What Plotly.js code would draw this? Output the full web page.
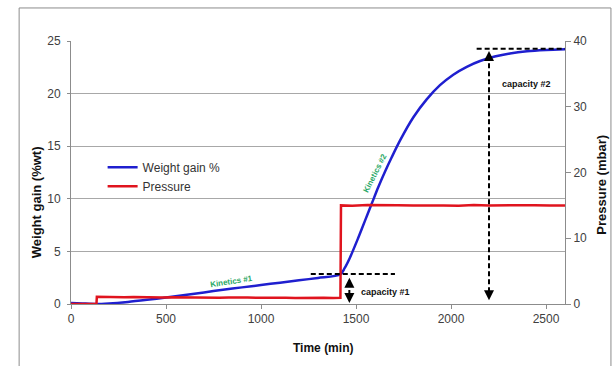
<!DOCTYPE html>
<html>
<head>
<meta charset="utf-8">
<script src="https://cdn.plot.ly/plotly-3.0.1.min.js"></script>
<style>html,body{margin:0;padding:0;background:#fff;}#chart{width:615px;height:366px;}</style>
</head>
<body>
<div id="chart"></div>
<script>
// Weight gain (% wt) vs time (min)
var weightTime  = [0, 60, 130, 200, 300, 400, 500, 600, 700, 800, 900, 1000, 1100, 1200, 1300, 1417, 1440, 1468, 1512, 1547, 1583, 1617, 1653, 1688, 1732, 1802, 1872, 1942, 2012, 2083, 2153, 2230, 2310, 2400, 2500, 2600];
var weightValue = [0.1, 0.05, 0, 0.05, 0.2, 0.4, 0.62, 0.85, 1.1, 1.35, 1.58, 1.8, 2.03, 2.25, 2.48, 2.8, 3.4, 4.4, 6.3, 7.9, 9.55, 11.1, 12.6, 13.95, 15.55, 17.75, 19.45, 20.8, 21.8, 22.55, 23.1, 23.52, 23.82, 24.03, 24.15, 24.22];

// Pressure (mbar) vs time (min)
var pressureTime  = [0, 134, 136, 180, 230, 280, 330, 380, 430, 480, 530, 580, 630, 680, 730, 780, 830, 880, 930, 980, 1030, 1080, 1130, 1180, 1230, 1280, 1330, 1380, 1418, 1421, 1480, 1560, 1640, 1720, 1800, 1880, 1960, 2040, 2120, 2200, 2280, 2360, 2440, 2520, 2600];
var pressureValue = [0, 0, 1.1, 1.05, 1.08, 1.02, 1.06, 1.0, 1.04, 0.98, 1.03, 1.0, 1.02, 0.97, 1.0, 0.95, 0.99, 0.93, 0.97, 0.94, 0.98, 0.92, 0.96, 0.9, 0.95, 0.91, 0.94, 0.9, 0.93, 15.0, 14.95, 15.05, 14.98, 15.02, 14.97, 15.03, 15.0, 14.96, 15.04, 14.99, 15.02, 14.97, 15.03, 14.98, 15.0];

var seriesNames = ['Weight gain %', 'Pressure'];
var xTicks = [0, 500, 1000, 1500, 2000, 2500];
var yTicks = [0, 5, 10, 15, 20, 25];
var y2Ticks = [0, 10, 20, 30, 40];

// Annotation markers (data values)
var cap1Level = 2.85, cap1Span = [1262, 1705], cap1ArrowX = 1465, cap1Range = [2.5, 0.1];
var cap2Level = 24.26, cap2Span = [2135, 2600], cap2ArrowX = 2200, cap2Range = [24.05, 0.35];

var blue = '#1f1fcf', red = '#e0141e', green = '#2aa866';
var gridCol = '#a8a8a8', axCol = '#8c8c8c', txtCol = '#404040';
var font = 'Liberation Sans, Arial, sans-serif';

var traces = [
  {x: weightTime, y: weightValue, name: seriesNames[0], type: 'scatter', mode: 'lines',
   line: {color: blue, width: 2.5, shape: 'spline', smoothing: 0.8}, yaxis: 'y'},
  {x: pressureTime, y: pressureValue, name: seriesNames[1], type: 'scatter', mode: 'lines',
   line: {color: red, width: 2.5}, yaxis: 'y2'}
];

var dashLine = {color: '#000', width: 2, dash: '5px,3px'};
var shapes = [
  {type: 'rect', xref: 'paper', yref: 'paper', x0: -0.105, x1: 1.093, y0: -0.45, y1: 1.1256,
   line: {color: '#8c8c8c', width: 1}, layer: 'below'},
  {type: 'line', xref: 'x', yref: 'y', x0: cap1Span[0], x1: cap1Span[1], y0: cap1Level, y1: cap1Level, line: dashLine},
  {type: 'line', xref: 'x', yref: 'y', x0: cap1ArrowX, x1: cap1ArrowX, y0: cap1Range[0] - 0.4, y1: cap1Range[1] + 0.4, line: dashLine},
  {type: 'line', xref: 'x', yref: 'y', x0: cap2Span[0], x1: cap2Span[1], y0: cap2Level, y1: cap2Level, line: dashLine},
  {type: 'line', xref: 'x', yref: 'y', x0: cap2ArrowX, x1: cap2ArrowX, y0: cap2Range[0] - 0.4, y1: cap2Range[1] + 0.4, line: dashLine}
];

function arrowHead(x, tipY, tailY) {
  return {x: x, y: tipY, xref: 'x', yref: 'y', ax: x, ay: tailY, axref: 'x', ayref: 'y',
          text: '', showarrow: true, arrowhead: 2, arrowsize: 1, arrowwidth: 2, arrowcolor: '#000'};
}

var annotations = [
  arrowHead(cap1ArrowX, cap1Range[0], cap1Range[0] - 0.5),
  arrowHead(cap1ArrowX, cap1Range[1], cap1Range[1] + 0.5),
  arrowHead(cap2ArrowX, cap2Range[0], cap2Range[0] - 0.5),
  arrowHead(cap2ArrowX, cap2Range[1], cap2Range[1] + 0.5),
  {x: 1653, y: 1.14, xref: 'x', yref: 'y', text: '<b>capacity #1</b>', showarrow: false,
   font: {family: font, size: 9, color: '#111'}},
  {x: 2398, y: 20.9, xref: 'x', yref: 'y', text: '<b>capacity #2</b>', showarrow: false,
   font: {family: font, size: 9, color: '#111'}},
  {x: 846, y: 2.16, xref: 'x', yref: 'y', text: '<b>Kinetics #1</b>', showarrow: false, textangle: -9,
   font: {family: font, size: 8, color: green}},
  {x: 1600, y: 12.4, xref: 'x', yref: 'y', text: '<b>Kinetics #2</b>', showarrow: false, textangle: -63,
   font: {family: font, size: 8, color: green}},
  {x: -0.0709, y: 0.387, xref: 'paper', yref: 'paper', xanchor: 'center', yanchor: 'middle',
   text: '<b>Weight gain (%wt)</b>', showarrow: false,
   textangle: -90, font: {family: font, size: 13, color: '#111'}},
  {x: 1.074, y: 0.452, xref: 'paper', yref: 'paper', xanchor: 'center', yanchor: 'middle',
   text: '<b>Pressure (mbar)</b>', showarrow: false,
   textangle: -90, font: {family: font, size: 13, color: '#111'}},
  {x: 0.51, y: -0.169, xref: 'paper', yref: 'paper', xanchor: 'center', yanchor: 'middle',
   text: '<b>Time (min)</b>', showarrow: false,
   font: {family: font, size: 12, color: '#111'}}
];

var layout = {
  width: 615, height: 366,
  margin: {l: 71, r: 50, t: 41, b: 62.3, pad: 0},
  paper_bgcolor: '#fff', plot_bgcolor: '#fff',
  font: {family: font, size: 12, color: txtCol},
  showlegend: true,
  legend: {x: 0.064, y: 0.575, xanchor: 'left', yanchor: 'top', bgcolor: 'rgba(0,0,0,0)',
           font: {family: font, size: 12, color: '#333'}, tracegroupgap: 0, itemwidth: 30},
  xaxis: {range: [0, 2600], tickvals: xTicks, showgrid: false, zeroline: false,
          showline: true, linecolor: axCol, linewidth: 1, ticks: 'outside', ticklen: 4, tickcolor: axCol,
          tickfont: {family: font, size: 12, color: txtCol}},
  yaxis: {range: [0, 25], tickvals: yTicks, showgrid: true, gridcolor: gridCol, gridwidth: 1, zeroline: false,
          showline: true, linecolor: axCol, linewidth: 1, ticks: 'outside', ticklen: 3, tickcolor: axCol,
          ticklabelstandoff: 4,
          tickfont: {family: font, size: 12, color: txtCol}},
  yaxis2: {range: [0, 40], tickvals: y2Ticks, overlaying: 'y', side: 'right', showgrid: false, zeroline: false,
           showline: true, linecolor: axCol, linewidth: 1, ticks: 'outside', ticklen: 5, tickcolor: axCol,
           tickfont: {family: font, size: 12, color: txtCol}},
  shapes: shapes,
  annotations: annotations
};

Plotly.newPlot('chart', traces, layout, {displayModeBar: false, staticPlot: true});
</script>
</body>
</html>
